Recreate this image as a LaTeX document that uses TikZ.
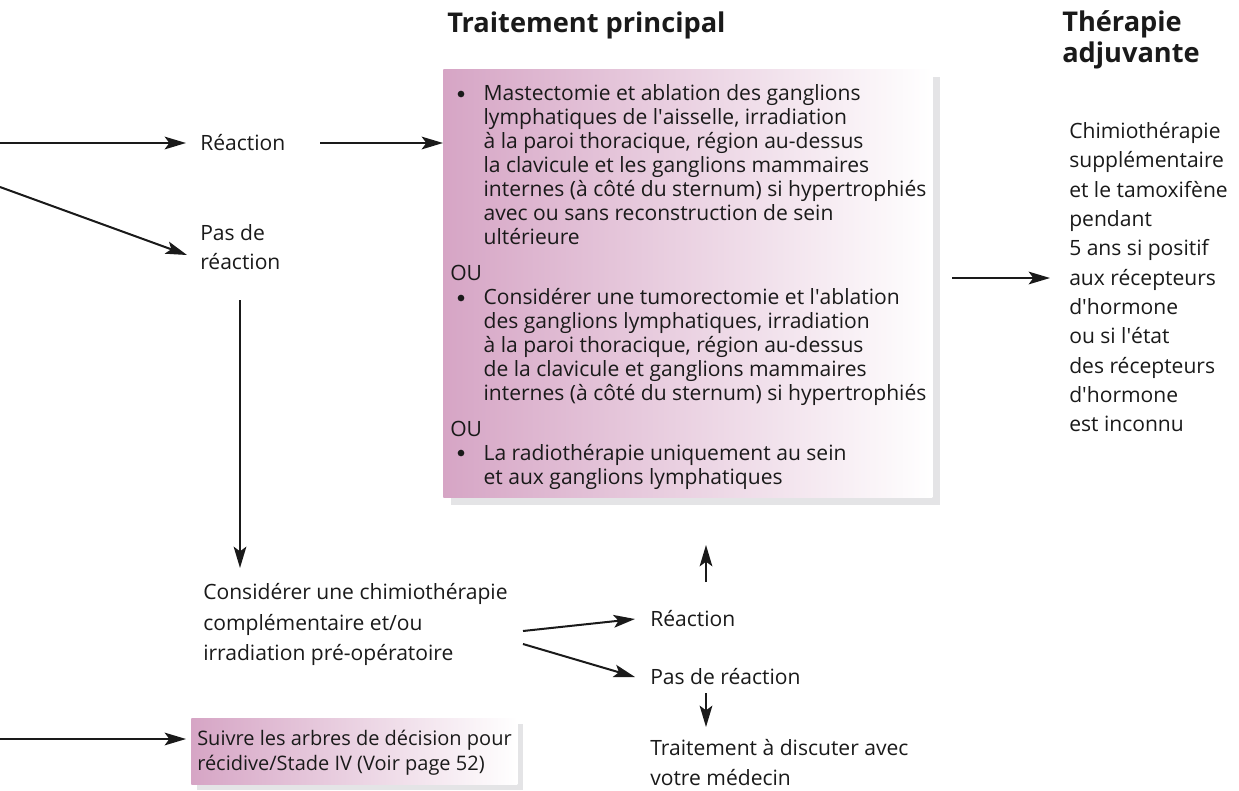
\documentclass[tikz,border=0pt]{standalone}
\usepackage{fontspec}
\setmainfont{Open Sans}
\usetikzlibrary{arrows.meta,shadows}
\definecolor{boxpink}{HTML}{D6A5C5}
\definecolor{shadowgray}{HTML}{E4E4E6}
\definecolor{ink}{HTML}{1A1A1A}
\tikzset{
  txt/.style={inner sep=0pt, align=left, text=ink, font=\fontsize{15.8}{18}\selectfont},
  txtw/.style={inner sep=0pt, align=left, text=ink, font=\fontsize{15.8}{#1}\selectfont},
  ttl/.style={inner sep=0pt, align=left, text=ink, font=\fontsize{20.4}{23.25}\selectfont\bfseries},
  arr/.style={line width=1.5pt, draw=ink, -{Stealth[length=16pt,width=9.5pt,inset=3.5pt]}},
  pinkbox/.style={left color=boxpink, right color=white, draw=none, inner sep=0pt,
     drop shadow={shadow xshift=#1, shadow yshift=-#1, opacity=1, fill=shadowgray}},
  dot/.style={circle, fill=ink, draw=none, inner sep=0pt, minimum size=5pt},
}
\newcommand{\ind}{\hspace*{25pt}}
\newcommand{\apos}{\textquotesingle}
\begin{document}
\begin{tikzpicture}[x=0.75pt,y=-0.75pt]
\useasboundingbox[fill=white] (0,0) rectangle (1239,790);

% titles
\node[ttl, anchor=west] (t1) at (447,25) {Traitement principal};
\node[ttl, anchor=north west] (t2) at (1062,10) {Thérapie\\adjuvante};

% main box
\node[pinkbox=6pt, minimum width=489*0.75pt, minimum height=428*0.75pt, anchor=north west] (box) at (443,69) {};
\node[txt, anchor=north west] (boxtxt) at (450,84) {%
\ind Mastectomie et ablation des ganglions\\
\ind lymphatiques de l\apos aisselle, irradiation\\
\ind à la paroi thoracique, région au-dessus\\
\ind la clavicule et les ganglions mammaires\\
\ind internes (à côté du sternum) si hypertrophiés\\
\ind avec ou sans reconstruction de sein\\
\ind ultérieure\\[9pt]
OU\\
\ind Considérer une tumorectomie et l\apos ablation\\
\ind des ganglions lymphatiques, irradiation\\
\ind à la paroi thoracique, région au-dessus\\
\ind de la clavicule et ganglions mammaires\\
\ind internes (à côté du sternum) si hypertrophiés\\[9pt]
OU\\
\ind La radiothérapie uniquement au sein\\
\ind et aux ganglions lymphatiques};
\node[dot] (b1) at (461,94) {};
\node[dot] (b2) at (461,298) {};
\node[dot] (b3) at (461,453) {};

% right column
\node[txtw=22pt, anchor=north west] (adj) at (1069,122) {Chimiothérapie\\supplémentaire\\et le tamoxifène\\pendant\\5 ans si positif\\aux récepteurs\\d\apos hormone\\ou si l\apos état\\des récepteurs\\d\apos hormone\\est inconnu};

% left side
\coordinate (in1) at (0,143);
\coordinate (in2) at (0,187);
\coordinate (in3) at (0,739);
\node[txt, anchor=west] (r1) at (200,143) {Réaction};
\node[txtw=21.75pt, anchor=north west] (nr1) at (200,224) {Pas de\\réaction};
\node[txtw=23pt, anchor=north west] (cons) at (203,583) {Considérer une chimiothérapie\\complémentaire et/ou\\irradiation pré-opératoire};

% bottom center
\node[txt, anchor=west] (r2) at (650,619) {Réaction};
\node[txt, anchor=west] (nr2) at (650,677) {Pas de réaction};
\node[txtw=22.5pt, anchor=north west] (disc) at (650,739) {Traitement à discuter avec\\votre médecin};

% box 2
\node[pinkbox=4.5pt, minimum width=326*0.75pt, minimum height=66*0.75pt, anchor=north west] (box2) at (191,718) {};
\node[inner sep=0pt, align=left, text=ink, font=\fontsize{15}{18.75}\selectfont, anchor=north west] (box2txt) at (197,730) {Suivre les arbres de décision pour\\récidive/Stade IV (Voir page 52)};

% arrows
\draw[arr] (in1) -- (186,143);
\draw[arr] (in2) -- (187,255);
\draw[arr] (320,143) -- (box.west |- r1.east);
\draw[arr] (240,300) -- (240,568);
\draw[arr] (523,631) -- (635,619);
\draw[arr] (523,644) -- (635,677);
\draw[arr] (706,582) -- (706,545);
\draw[arr] (706,693) -- (706,727);
\draw[arr] (952,278) -- (1050,278);
\draw[arr] (in3) -- (186,739);
\end{tikzpicture}
\end{document}
